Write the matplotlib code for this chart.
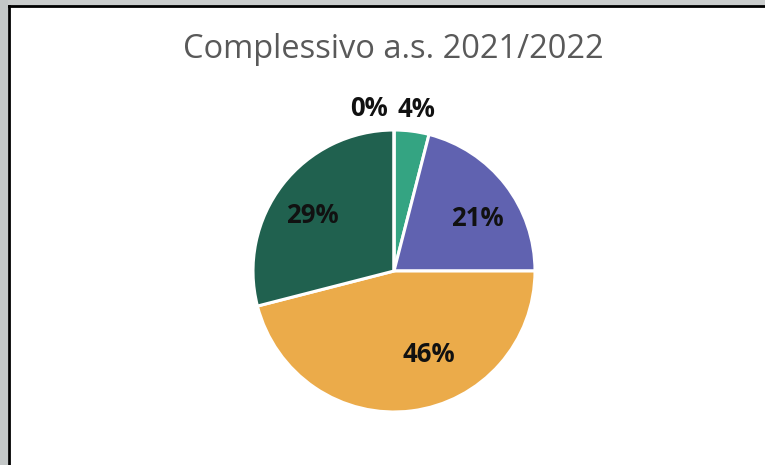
import numpy as np
import matplotlib
matplotlib.use("Agg")
import matplotlib.pyplot as plt
from matplotlib.patches import Rectangle
from matplotlib.lines import Line2D

# Share of the total per category, in drawing order (clockwise from 12 o'clock)
categories = ["A", "B", "C", "D", "E"]
shares = [4, 21, 46, 29, 0]
labels = ["4%", "21%", "46%", "29%", "0%"]
colors = ["#34a482", "#6062b0", "#ebab4a", "#20614f", "#9aa6a0"]
title = "Complessivo a.s. 2021/2022"

# Label placement per slice: (angle in degrees, distance as fraction of radius)
label_pos = [(82, 1.155), (32, 0.70), (-67, 0.64), (146, 0.70), (98.7, 1.165)]

plt.rcParams["font.family"] = ["Open Sans", "DejaVu Sans"]

fig = plt.figure(figsize=(7.65, 4.65), dpi=100)
fig.patch.set_facecolor("white")

# Window-like frame: grey margin on the top and left, dark edge line
W, H = 765, 465
def fx(px):
    return px / W
def fy(py):
    return 1 - py / H
fig.patches.append(Rectangle((0, fy(6)), 1, 6 / H, transform=fig.transFigure,
                             facecolor="#c9cccc", edgecolor="none", zorder=0))
fig.patches.append(Rectangle((0, 0), 8 / W, 1, transform=fig.transFigure,
                             facecolor="#c3c7c7", edgecolor="none", zorder=0))
fig.lines.append(Line2D([fx(8.5), 1], [fy(6.5), fy(6.5)], transform=fig.transFigure,
                        color="black", lw=2.0, zorder=1))
fig.lines.append(Line2D([fx(8.5), fx(8.5)], [fy(6.5), 0], transform=fig.transFigure,
                        color="black", lw=2.0, zorder=1))

fig.text(fx(393), fy(50), title, ha="center", va="center",
         fontsize=23.5, color="#595959")

# Pie axes: centre at (394, 271) px, radius about 141 px
R = 141
ax = fig.add_axes([fx(394 - R), fy(271 + R), 2 * R / W, 2 * R / H])
ax.pie(shares, colors=colors, startangle=90, counterclock=False,
       wedgeprops=dict(edgecolor="white", linewidth=2.2), radius=1.0)
ax.set_xlim(-1, 1)
ax.set_ylim(-1, 1)
ax.set_aspect("auto")
ax.axis("off")

for lab, (ang, dist) in zip(labels, label_pos):
    a = np.deg2rad(ang)
    ax.text(dist * np.cos(a), dist * np.sin(a), lab, ha="center", va="center",
            fontsize=18.5, fontweight="bold", color="#111111", clip_on=False)

fig.savefig("out.png", dpi=100)
